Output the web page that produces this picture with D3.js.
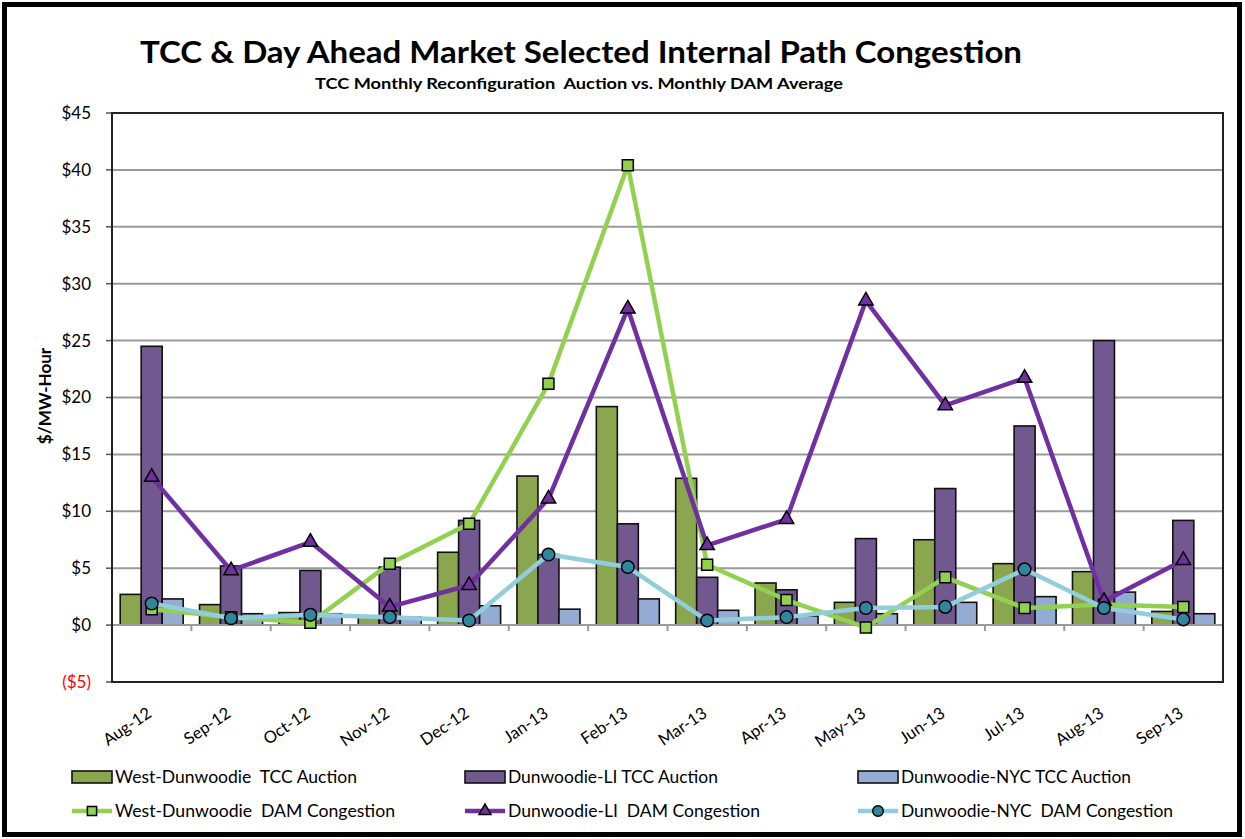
<!DOCTYPE html>
<html>
<head>
<meta charset="utf-8">
<script src="https://cdn.jsdelivr.net/npm/d3@7"></script>
<style>
  body { margin: 0; background: #fff; }
  svg text { font-family: Lato, "Open Sans", sans-serif; fill: #000; white-space: pre; }
</style>
</head>
<body>
<svg width="1245" height="839"></svg>
<script>
// month categories
const months = ['Aug-12','Sep-12','Oct-12','Nov-12','Dec-12','Jan-13','Feb-13','Mar-13','Apr-13','May-13','Jun-13','Jul-13','Aug-13','Sep-13'];

// TCC auction values (bars)
const westTcc = [2.7, 1.8, 1.1, 0.8, 6.4, 13.1, 19.2, 12.9, 3.7, 2.0, 7.5, 5.4, 4.7, 1.2];
const liTcc   = [24.5, 5.2, 4.8, 5.1, 9.2, 6.2, 8.9, 4.2, 3.1, 7.6, 12.0, 17.5, 25.0, 9.2];
const nycTcc  = [2.3, 1.0, 1.0, 0.7, 1.7, 1.4, 2.3, 1.3, 0.8, 1.0, 2.0, 2.5, 2.9, 1.0];

// DAM congestion values (lines)
const westDam = [1.4, 0.7, 0.2, 5.4, 8.9, 21.2, 40.4, 5.3, 2.2, -0.2, 4.2, 1.5, 1.8, 1.6];
const liDam   = [13.0, 4.8, 7.3, 1.6, 3.5, 11.1, 27.8, 7.0, 9.3, 28.5, 19.3, 21.7, 2.1, 5.7];
const nycDam  = [1.9, 0.6, 0.9, 0.7, 0.4, 6.2, 5.1, 0.4, 0.7, 1.5, 1.6, 4.9, 1.5, 0.5];

const yTicks = [-5, 0, 5, 10, 15, 20, 25, 30, 35, 40, 45];

const barSeries = [
  {name: 'West-Dunwoodie  TCC Auction', values: westTcc, fill: '#8aa64e'},
  {name: 'Dunwoodie-LI TCC Auction',    values: liTcc,   fill: '#71588f'},
  {name: 'Dunwoodie-NYC TCC Auction',   values: nycTcc,  fill: '#94abd3'}
];
const lineSeries = [
  {name: 'West-Dunwoodie  DAM Congestion', values: westDam, stroke: '#92d050', marker: '#92d050', symbol: d3.symbolSquare, size: 121},
  {name: 'Dunwoodie-LI  DAM Congestion',   values: liDam,   stroke: '#7030a0', marker: '#7030a0', symbol: d3.symbolTriangle, size: 90},
  {name: 'Dunwoodie-NYC  DAM Congestion',  values: nycDam,  stroke: '#92cddc', marker: '#31859c', symbol: d3.symbolCircle, size: 125}
];

const svg = d3.select('svg');
const plot = {left: 112, top: 113, right: 1223, bottom: 682};

// outer frame
svg.append('rect')
  .attr('x', 4.5).attr('y', 4.5).attr('width', 1235).attr('height', 830)
  .attr('fill', '#fff').attr('stroke', '#000').attr('stroke-width', 5);

// titles
svg.append('text')
  .attr('x', 581).attr('y', 63)
  .attr('text-anchor', 'middle')
  .attr('font-size', 31).attr('font-weight', 'bold')
  .attr('textLength', 882).attr('lengthAdjust', 'spacingAndGlyphs')
  .text('TCC & Day Ahead Market Selected Internal Path Congestion');
svg.append('text')
  .attr('x', 579).attr('y', 89)
  .attr('text-anchor', 'middle')
  .attr('font-size', 15).attr('font-weight', 'bold')
  .attr('textLength', 528).attr('lengthAdjust', 'spacingAndGlyphs')
  .text('TCC Monthly Reconfiguration  Auction vs. Monthly DAM Average');

// scales
const x0 = d3.scaleBand().domain(months).range([plot.left, plot.right]).padding(0);
const x1 = d3.scaleBand().domain(d3.range(barSeries.length)).range([0, x0.bandwidth()])
  .paddingInner(0).paddingOuter(0.39);
const y = d3.scaleLinear().domain([-5, 45]).range([plot.bottom, plot.top]);

// gridlines
svg.append('g').selectAll('line')
  .data(yTicks.filter(d => d > 0 && d < 45)).enter()
  .append('line')
  .attr('x1', plot.left).attr('x2', plot.right)
  .attr('y1', d => y(d)).attr('y2', d => y(d))
  .attr('stroke', '#9a9a9a').attr('stroke-width', 2);

// y tick marks and labels
svg.append('g').selectAll('line')
  .data(yTicks).enter()
  .append('line')
  .attr('x1', plot.left - 6).attr('x2', plot.left)
  .attr('y1', d => y(d)).attr('y2', d => y(d))
  .attr('stroke', '#555').attr('stroke-width', 1.5);
svg.append('g').selectAll('text')
  .data(yTicks).enter()
  .append('text')
  .attr('x', 91).attr('y', d => y(d))
  .attr('dy', '0.35em')
  .attr('text-anchor', 'end')
  .attr('font-size', 17)
  .style('fill', d => d < 0 ? '#ff0000' : '#000')
  .text(d => d < 0 ? '($' + Math.abs(d) + ')' : '$' + d);

svg.append('text')
  .attr('transform', 'translate(51,396) rotate(-90)')
  .attr('text-anchor', 'middle')
  .attr('font-size', 17).attr('font-weight', 'bold')
  .text('$/MW-Hour');

// bars
const groups = svg.append('g').selectAll('g')
  .data(months).enter()
  .append('g')
  .attr('transform', d => `translate(${x0(d)},0)`);
groups.selectAll('rect')
  .data((m, i) => barSeries.map((s, k) => ({k, v: s.values[i], fill: s.fill}))).enter()
  .append('rect')
  .attr('x', d => x1(d.k))
  .attr('width', x1.bandwidth())
  .attr('y', d => y(Math.max(0, d.v)))
  .attr('height', d => Math.abs(y(d.v) - y(0)))
  .attr('fill', d => d.fill)
  .attr('stroke', '#111').attr('stroke-width', 1.6);

// zero axis with category ticks
svg.append('line')
  .attr('x1', plot.left).attr('x2', plot.right)
  .attr('y1', y(0)).attr('y2', y(0))
  .attr('stroke', '#9a9a9a').attr('stroke-width', 2);
svg.append('g').selectAll('line')
  .data(months.map(m => x0(m)).concat([plot.right])).enter()
  .append('line')
  .attr('x1', d => d).attr('x2', d => d)
  .attr('y1', y(0)).attr('y2', y(0) + 6)
  .attr('stroke', '#9a9a9a').attr('stroke-width', 2);

// plot border
svg.append('rect')
  .attr('x', plot.left).attr('y', plot.top)
  .attr('width', plot.right - plot.left).attr('height', plot.bottom - plot.top)
  .attr('fill', 'none').attr('stroke', '#222').attr('stroke-width', 2);

// lines with markers
const cx = i => x0(months[i]) + x0.bandwidth() / 2;
const lineGen = d3.line().x((d, i) => cx(i)).y(d => y(d));
lineSeries.forEach(s => {
  const g = svg.append('g');
  g.append('path')
    .attr('d', lineGen(s.values))
    .attr('fill', 'none')
    .attr('stroke', s.stroke).attr('stroke-width', 4.5)
    .attr('stroke-linejoin', 'round');
  g.selectAll('path.mk')
    .data(s.values).enter()
    .append('path')
    .attr('class', 'mk')
    .attr('d', d3.symbol().type(s.symbol).size(s.size))
    .attr('transform', (d, i) => `translate(${cx(i)},${y(d)})`)
    .attr('fill', s.marker)
    .attr('stroke', '#000').attr('stroke-width', 1.5);
});

// x labels
svg.append('g').selectAll('text')
  .data(months).enter()
  .append('text')
  .attr('transform', d => `translate(${x0(d) + x0.bandwidth() / 2 + 1},716) rotate(-34)`)
  .attr('text-anchor', 'end')
  .attr('font-size', 16.5)
  .text(d => d);

// legend
const colX = [72, 465, 858];
const legendWidths = [[242, 210, 230], [280, 252, 272]];
const legend = svg.append('g');
barSeries.forEach((s, k) => {
  legend.append('rect')
    .attr('x', colX[k]).attr('y', 771).attr('width', 40).attr('height', 12)
    .attr('fill', s.fill).attr('stroke', '#111').attr('stroke-width', 1.6);
  legend.append('text')
    .attr('x', colX[k] + 43).attr('y', 783)
    .attr('font-size', 17)
    .attr('textLength', legendWidths[0][k]).attr('lengthAdjust', 'spacingAndGlyphs')
    .text(s.name);
});
lineSeries.forEach((s, k) => {
  legend.append('line')
    .attr('x1', colX[k]).attr('x2', colX[k] + 40)
    .attr('y1', 811).attr('y2', 811)
    .attr('stroke', s.stroke).attr('stroke-width', 4.5);
  legend.append('path')
    .attr('d', d3.symbol().type(s.symbol).size(s.size * 0.7))
    .attr('transform', `translate(${colX[k] + 20},811)`)
    .attr('fill', s.marker).attr('stroke', '#000').attr('stroke-width', 1.5);
  legend.append('text')
    .attr('x', colX[k] + 43).attr('y', 817)
    .attr('font-size', 17)
    .attr('textLength', legendWidths[1][k]).attr('lengthAdjust', 'spacingAndGlyphs')
    .text(s.name);
});
</script>
</body>
</html>
